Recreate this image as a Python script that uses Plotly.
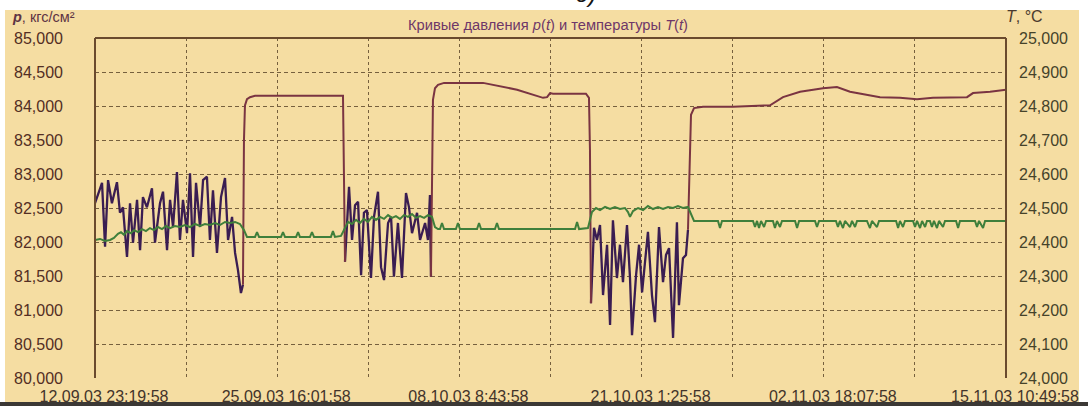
import pandas as pd
import plotly.graph_objects as go

# ---- time base -------------------------------------------------------------
START = pd.Timestamp("2003-09-12 23:19:58")
END = pd.Timestamp("2003-11-15 10:49:58")
GRID_STEP = pd.Timedelta(days=6, hours=8, minutes=21)

x_tick_labels = [
    "12.09.03 23:19:58", "", "25.09.03 16:01:58", "", "08.10.03 8:43:58", "",
    "21.10.03 1:25:58", "", "02.11.03 18:07:58", "", "15.11.03 10:49:58",
]

# ---- pressure p(t), kgf/cm2 : days since START ------------------------------
# unstable (pulsating) periods
p_noise1_days = [0, 0.49, 0.70, 0.91, 1.18, 1.53, 1.74, 1.95, 2.23, 2.44, 2.65, 2.93,
                 3.14, 3.34, 3.62, 3.97, 4.18, 4.53, 4.74, 5.02, 5.23, 5.44, 5.71,
                 5.92, 6.13, 6.41, 6.62, 6.83, 7.04, 7.32, 7.53, 7.80, 8.01, 8.22,
                 8.50, 8.78, 9.06, 9.27, 9.55, 9.76, 9.96, 10.17, 10.31]
p_noise1 = [82.57, 82.87, 81.93, 82.91, 82.57, 82.88, 82.43, 82.51, 81.78, 82.57,
            81.99, 82.62, 81.88, 82.66, 82.51, 82.79, 81.99, 82.57, 82.74, 81.88,
            82.62, 82.22, 83.03, 82.03, 82.62, 82.13, 83.01, 81.78, 82.87, 82.22,
            82.91, 82.96, 82.03, 82.76, 81.84, 82.66, 82.94, 82.03, 82.37, 81.84,
            81.59, 81.25, 81.37]

p_noise2_days = [17.42, 17.70, 17.91, 18.12, 18.33, 18.54, 18.74, 18.95, 19.23, 19.44,
                 19.72, 19.93, 20.14, 20.42, 20.63, 20.83, 21.11, 21.39, 21.67, 21.88,
                 22.09, 22.44, 22.65, 23.00, 23.20, 23.34, 23.41]
p_noise2 = [81.71, 82.81, 82.03, 82.54, 82.59, 81.51, 82.43, 82.47, 81.47, 82.37,
            82.74, 81.63, 81.44, 82.28, 82.37, 81.49, 82.28, 81.47, 82.72, 82.51,
            82.13, 82.43, 82.03, 82.28, 82.03, 82.69, 81.49]

p_noise3_days = [34.56, 34.77, 34.98, 35.19, 35.40, 35.68, 35.89, 36.09, 36.37, 36.58,
                 36.79, 37.07, 37.28, 37.42, 37.70, 37.91, 38.12, 38.32, 38.53, 38.81,
                 39.02, 39.30, 39.58, 39.79, 40.00, 40.28, 40.55, 40.69, 40.97, 41.18,
                 41.32]
p_noise3 = [81.10, 82.21, 82.03, 82.25, 81.22, 81.96, 80.78, 82.32, 81.47, 81.96,
            81.41, 82.25, 81.47, 80.63, 81.51, 81.96, 81.26, 81.71, 82.15, 81.22,
            80.82, 82.22, 81.41, 81.81, 81.91, 80.59, 82.29, 81.07, 81.76, 81.81,
            82.18]

# stable (raised) periods, including the transitions
p_stable1_days = [10.31, 10.38, 10.45, 10.59, 10.80, 11.15, 14.28, 17.28, 17.42]
p_stable1 = [81.37, 83.50, 84.01, 84.10, 84.13, 84.15, 84.15, 84.15, 81.71]

p_stable2_days = [23.41, 23.55, 23.69, 23.90, 24.32, 27.04, 29.41, 31.22, 31.50,
                  31.71, 31.91, 34.21, 34.42, 34.49, 34.56]
p_stable2 = [81.49, 84.09, 84.26, 84.31, 84.34, 84.34, 84.24, 84.12, 84.13,
             84.19, 84.18, 84.18, 84.12, 83.35, 81.10]

p_stable3_days = [41.32, 41.46, 41.53, 41.74, 42.37, 44.46, 47.04, 47.94, 49.13,
                  50.73, 51.70, 52.61, 53.79, 54.70, 56.09, 57.28, 58.39, 60.76,
                  61.18, 62.37, 63.48]
p_stable3 = [82.18, 83.35, 83.87, 83.97, 83.99, 83.99, 84.01, 84.13, 84.21,
             84.26, 84.28, 84.21, 84.16, 84.13, 84.12, 84.10, 84.12, 84.13,
             84.19, 84.21, 84.24]

# ---- temperature T(t), degC --------------------------------------------------
t_days = [0, 0.35, 0.70, 1.05, 1.32, 1.60, 1.81, 2.02, 2.23, 2.51, 2.72, 3.00, 3.28,
          3.55, 3.83, 4.11, 4.39, 4.67, 4.95, 5.23, 5.57, 5.92, 6.27, 6.62, 6.97,
          7.32, 7.66, 8.01, 8.36, 8.71, 9.06, 9.41, 9.76, 10.10, 10.38, 10.59,
          11.15, 11.29, 11.43, 12.96, 13.10, 13.24, 14.01, 14.15, 14.28, 14.98,
          15.12, 15.26, 16.44, 16.58, 16.72, 17.14, 17.42, 17.63, 17.91, 18.19,
          18.47, 18.74, 19.02, 19.30, 19.58, 19.86, 20.14, 20.42, 20.70, 20.97,
          21.25, 21.53, 21.81, 22.09, 22.37, 22.65, 22.93, 23.20, 23.48, 23.69,
          23.90, 24.04, 24.18, 24.32, 25.15, 25.29, 25.43, 26.62, 26.76, 26.90,
          27.87, 28.01, 28.15, 33.45, 33.59, 33.73, 34.35, 34.63, 34.91, 35.19,
          35.54, 35.89, 36.23, 36.58, 36.93, 37.14, 37.28, 37.49, 37.84, 38.19,
          38.53, 38.88, 39.23, 39.58, 39.93, 40.28, 40.62, 40.97, 41.32, 41.53,
          41.74, 43.41, 43.55, 43.69, 45.85, 45.99, 46.13, 46.27, 46.41, 46.62,
          46.76, 47.24, 47.38, 47.52, 47.73, 47.87, 48.78, 48.92, 49.06, 50.17,
          50.31, 50.45, 51.63, 51.77, 51.91, 52.12, 52.26, 52.61, 52.75, 52.96,
          53.10, 53.79, 54.00, 54.14, 54.49, 54.63, 55.82, 55.96, 56.09, 56.30,
          56.44, 57.00, 57.14, 57.28, 57.49, 57.63, 57.84, 57.97, 58.18, 58.32,
          58.46, 58.67, 58.81, 59.09, 59.23, 60.00, 60.14, 60.27, 61.32, 61.46,
          61.60, 61.88, 62.02, 63.48]
t_vals = [24.406, 24.409, 24.403, 24.406, 24.412, 24.424, 24.429, 24.421, 24.432,
          24.426, 24.435, 24.429, 24.438, 24.432, 24.441, 24.435, 24.444, 24.438,
          24.447, 24.441, 24.447, 24.444, 24.450, 24.444, 24.453, 24.447, 24.453,
          24.450, 24.456, 24.450, 24.459, 24.456, 24.459, 24.453, 24.435, 24.415,
          24.415, 24.429, 24.415, 24.415, 24.429, 24.415, 24.415, 24.429, 24.415,
          24.415, 24.429, 24.415, 24.415, 24.432, 24.415, 24.418, 24.441, 24.459,
          24.453, 24.465, 24.456, 24.468, 24.459, 24.474, 24.465, 24.474, 24.468,
          24.479, 24.471, 24.476, 24.468, 24.479, 24.474, 24.482, 24.471, 24.476,
          24.471, 24.479, 24.474, 24.444, 24.438, 24.438, 24.456, 24.438, 24.438,
          24.456, 24.438, 24.438, 24.456, 24.438, 24.438, 24.456, 24.438, 24.438,
          24.459, 24.438, 24.441, 24.488, 24.500, 24.494, 24.503, 24.497, 24.503,
          24.497, 24.500, 24.488, 24.474, 24.491, 24.500, 24.494, 24.506, 24.497,
          24.503, 24.497, 24.503, 24.500, 24.506, 24.500, 24.503, 24.482, 24.462,
          24.462, 24.441, 24.462, 24.462, 24.444, 24.462, 24.441, 24.462, 24.444,
          24.462, 24.462, 24.441, 24.462, 24.444, 24.462, 24.462, 24.441, 24.462,
          24.462, 24.444, 24.462, 24.462, 24.444, 24.462, 24.441, 24.462, 24.444,
          24.462, 24.444, 24.462, 24.462, 24.441, 24.462, 24.444, 24.462, 24.462,
          24.441, 24.462, 24.444, 24.462, 24.462, 24.444, 24.462, 24.441, 24.462,
          24.444, 24.462, 24.462, 24.444, 24.462, 24.441, 24.462, 24.444, 24.462,
          24.462, 24.441, 24.462, 24.462, 24.444, 24.462, 24.441, 24.462, 24.462]

# ---- styling -----------------------------------------------------------------
PAPER_TAN = "#f5dda2"
GRID_COL = "#76603e"
FRAME_COL = "#6a4a2e"
P_STABLE_COL = "#7a3442"
P_NOISE_COL = "#3a1d52"
T_COL = "#3f7f3b"
FONT = "Liberation Sans"


def to_time(days):
    return START + pd.to_timedelta(days, unit="D")


fig = go.Figure()

for d, v in [(p_noise1_days, p_noise1), (p_noise2_days, p_noise2), (p_noise3_days, p_noise3)]:
    fig.add_trace(go.Scatter(x=to_time(d), y=v, mode="lines", name="p(t)",
                             line=dict(color=P_NOISE_COL, width=2.3), yaxis="y"))

for d, v in [(p_stable1_days, p_stable1), (p_stable2_days, p_stable2), (p_stable3_days, p_stable3)]:
    fig.add_trace(go.Scatter(x=to_time(d), y=v, mode="lines", name="p(t)",
                             line=dict(color=P_STABLE_COL, width=2), yaxis="y"))

fig.add_trace(go.Scatter(x=to_time(t_days), y=t_vals, mode="lines", name="T(t)",
                         line=dict(color=T_COL, width=2), yaxis="y2"))

tick_positions = [START + k * GRID_STEP for k in range(len(x_tick_labels))]


# plot area in pixels: x 95..1006, y 38..378
def px_x(x):
    return (x - 95) / 911


def px_y(y):
    return (378 - y) / 340


shapes = [
    dict(type="rect", xref="paper", yref="paper", x0=px_x(5), x1=px_x(1079),
         y0=px_y(402), y1=px_y(10), fillcolor=PAPER_TAN, line=dict(width=0), layer="below"),
    dict(type="rect", xref="paper", yref="paper", x0=px_x(0), x1=px_x(1088),
         y0=px_y(406), y1=px_y(402), fillcolor="#3b3835", line=dict(width=0), layer="below"),
    dict(type="line", xref="paper", yref="paper", x0=0, x1=0, y0=0, y1=1,
         line=dict(color=FRAME_COL, width=2)),
    dict(type="line", xref="paper", yref="paper", x0=1, x1=1, y0=0, y1=1,
         line=dict(color=FRAME_COL, width=2)),
    dict(type="line", xref="paper", yref="paper", x0=0, x1=1, y0=1, y1=1,
         line=dict(color=FRAME_COL, width=2)),
]

annotations = [
    dict(text="Кривые давления <i>p</i>(<i>t</i>) и температуры <i>T</i>(<i>t</i>)",
         xref="paper", yref="paper", x=px_x(548), y=px_y(25), showarrow=False,
         xanchor="center", yanchor="middle", font=dict(family=FONT, size=14.7, color="#6e3768")),
    dict(text="<b><i>p</i></b>, кгс/см²", xref="paper", yref="paper", x=px_x(10), y=px_y(17),
         showarrow=False, xanchor="left", yanchor="middle",
         font=dict(family=FONT, size=14.5, color="#5e3444")),
    dict(text="<i>T</i>, °C", xref="paper", yref="paper", x=px_x(1004), y=px_y(16),
         showarrow=False, xanchor="left", yanchor="middle",
         font=dict(family=FONT, size=16, color="#4b3a2e")),
    dict(text="<i>б)</i>", xref="paper", yref="paper", x=px_x(586), y=px_y(9),
         showarrow=False, xanchor="center", yanchor="bottom",
         font=dict(family=FONT, size=24, color="#151515")),
]

fig.update_layout(
    width=1088, height=406, autosize=False,
    margin=dict(l=95, r=82, t=38, b=28, autoexpand=False),
    paper_bgcolor="white",
    plot_bgcolor="rgba(0,0,0,0)",
    showlegend=False,
    separators=", ",
    shapes=shapes,
    annotations=annotations,
    xaxis=dict(
        type="date", range=[START, END], automargin=False,
        tickmode="array", tickvals=tick_positions, ticktext=x_tick_labels,
        showgrid=True, gridcolor=GRID_COL, gridwidth=1, griddash="3px,3px",
        zeroline=False, showline=False, ticks="",
        ticklabelshift=9, ticklabelstandoff=7,
        tickfont=dict(family=FONT, size=16, color="#43342a"),
    ),
    yaxis=dict(
        range=[80, 85], dtick=0.5, tick0=80, tickformat=".3f", automargin=False,
        showgrid=True, gridcolor=GRID_COL, gridwidth=1, griddash="4px,3px",
        zeroline=False, showline=False, ticks="",
        ticklabelstandoff=31,
        tickfont=dict(family=FONT, size=16, color="#532e24"),
    ),
    yaxis2=dict(
        range=[24, 25], dtick=0.1, tick0=24, tickformat=".3f", automargin=False,
        overlaying="y", side="right", showgrid=False,
        zeroline=False, showline=False, ticks="",
        ticklabelstandoff=12,
        tickfont=dict(family=FONT, size=16, color="#45432a"),
    ),
)

fig.write_html("out.html")
